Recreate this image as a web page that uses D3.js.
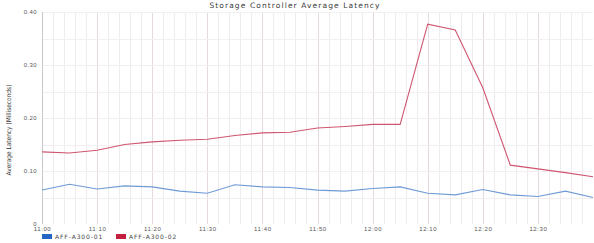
<!DOCTYPE html>
<html>
<head>
<meta charset="utf-8">
<script src="https://cdn.jsdelivr.net/npm/d3@7"></script>
<style>
  body { margin: 0; background: #fff; }
  svg { display: block; font-family: "DejaVu Sans", sans-serif; }
</style>
</head>
<body>
<div class="grafico"></div>
<script>
var width = 594, height = 243,
  margin = { top: 12, right: 1, bottom: 19, left: 42 };

// datos, una muestra cada 5 minutos desde las 11:00
var tiempos = ["11:00","11:05","11:10","11:15","11:20","11:25","11:30","11:35","11:40","11:45",
  "11:50","11:55","12:00","12:05","12:10","12:15","12:20","12:25","12:30","12:35","12:40"];
var serie01 = [0.064,0.075,0.066,0.072,0.070,0.062,0.058,0.074,0.070,0.069,
  0.064,0.062,0.067,0.070,0.058,0.055,0.065,0.055,0.052,0.062,0.050];
var serie02 = [0.136,0.134,0.139,0.150,0.155,0.158,0.160,0.167,0.172,0.173,
  0.181,0.184,0.188,0.188,0.377,0.366,0.257,0.111,0.104,0.097,0.089];
var nombres = ["AFF-A300-01", "AFF-A300-02"];
var yTicks = [0, 0.10, 0.20, 0.30, 0.40];
var xTicks = ["11:00","11:10","11:20","11:30","11:40","11:50","12:00","12:10","12:20","12:30"];

var parse = d3.timeParse("%H:%M");
var w = width - margin.left - margin.right,
  h = height - margin.top - margin.bottom;

var svg = d3.select(".grafico").append("svg")
  .attr("width", width).attr("height", height);
var g = svg.append("g")
  .attr("transform", "translate(" + margin.left + "," + margin.top + ")");

var x = d3.scaleTime().domain([parse("11:00"), d3.timeMinute.offset(parse("12:40"), 0.2)]).range([0, w]),
  y = d3.scaleLinear().domain([0, 0.40]).range([h, 0]),
  z = d3.scaleOrdinal().domain(nombres).range(["#6e9bd6", "#cf5670"]),
  zLeyenda = d3.scaleOrdinal().domain(nombres).range(["#2467c2", "#c2203e"]);

// grilla vertical cada 2 min, mayor cada 10
var minutos = d3.timeMinute.every(2).range(parse("11:02"), x.domain()[1]);
g.selectAll(".vgrid").data(minutos).enter().append("line")
  .attr("x1", d => Math.round(x(d)) + 0.5).attr("x2", d => Math.round(x(d)) + 0.5)
  .attr("y1", 0).attr("y2", h)
  .attr("stroke", d => d.getMinutes() % 10 === 0 ? "#e4dadd" : "#f0ebed")
  .attr("stroke-width", 1);

// grilla horizontal cada 0.05
g.selectAll(".hgrid").data(d3.range(1, 9).map(i => i * 0.05)).enter().append("line")
  .attr("x1", 0).attr("x2", w)
  .attr("y1", d => Math.round(y(d)) + 0.5).attr("y2", d => Math.round(y(d)) + 0.5)
  .attr("stroke", "#f3eef0");

// eje y
var ay = g.append("g")
  .call(d3.axisLeft(y).tickValues(yTicks).tickSize(0).tickPadding(5)
    .tickFormat(d => d === 0 ? "0" : d3.format(".2f")(d)));
ay.select(".domain").attr("stroke", "#c8c8c8").attr("d", "M0.5,0V" + h);
ay.selectAll("text").attr("fill", "#555").style("font-size", "6px").style("letter-spacing", "0.4px");

// eje x
var ax = g.append("g").attr("transform", "translate(0," + h + ")")
  .call(d3.axisBottom(x).tickValues(xTicks.map(parse)).tickSize(0).tickPadding(3)
    .tickFormat(d3.timeFormat("%H:%M")));
ax.select(".domain").remove();
ax.selectAll("text").attr("fill", "#555").style("font-size", "6px").style("letter-spacing", "0.6px");

// lineas
var linea = d3.line().x((d, i) => x(parse(tiempos[i]))).y(d => y(d));
[serie01, serie02].forEach((s, k) => {
  g.append("path").datum(s)
    .attr("fill", "none")
    .attr("stroke", z(nombres[k]))
    .attr("stroke-width", 1.1)
    .attr("d", linea);
});

// titulo
svg.append("text")
  .attr("x", 295).attr("y", 8)
  .attr("text-anchor", "middle")
  .attr("fill", "#3a3a3a")
  .style("font-size", "7.5px")
  .style("letter-spacing", "1.1px")
  .text("Storage Controller Average Latency");

// etiqueta eje y
svg.append("text")
  .attr("transform", "translate(11,130) rotate(-90)")
  .attr("text-anchor", "middle")
  .attr("fill", "#333")
  .style("font-family", "'DejaVu Sans Condensed', 'Liberation Sans Narrow', sans-serif")
  .style("font-size", "6.5px")
  .text("Average Latency (Milliseconds)");

// leyenda
var leg = svg.selectAll(".leg").data(nombres).enter().append("g")
  .attr("transform", (d, i) => "translate(" + (42 + i * 74) + ",234)");
leg.append("rect").attr("width", 10).attr("height", 5).attr("fill", d => zLeyenda(d));
leg.append("text").attr("x", 13).attr("y", 5)
  .attr("fill", "#444").style("font-size", "6px").style("letter-spacing", "0.9px")
  .text(d => d);
</script>
</body>
</html>
